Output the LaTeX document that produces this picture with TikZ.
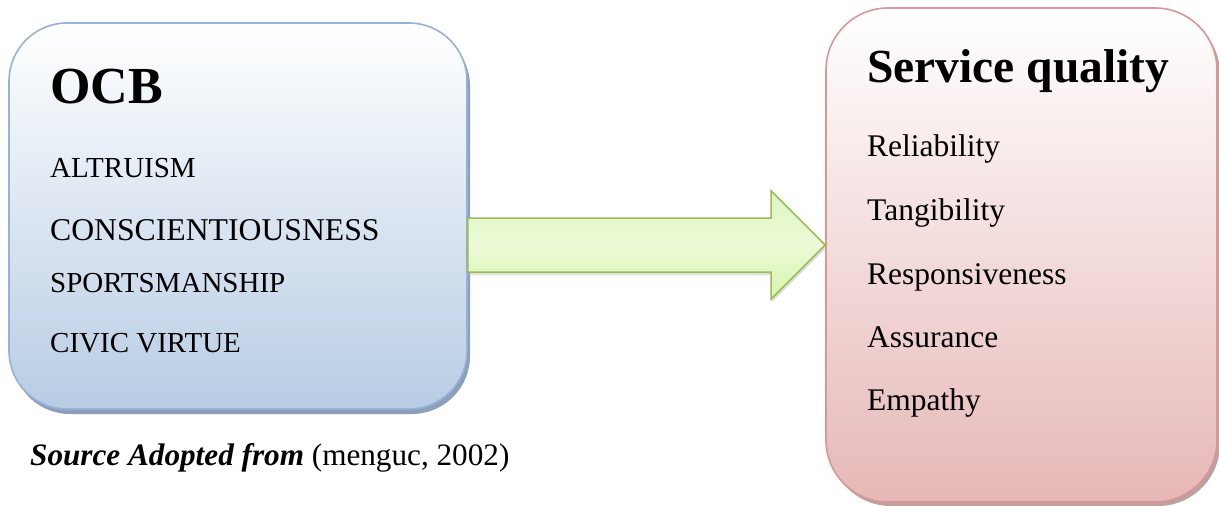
\documentclass[tikz,border=0pt]{standalone}
\usepackage{fontspec}
\setmainfont{Liberation Serif}
\usetikzlibrary{shadows,calc}
\definecolor{bluefill}{RGB}{184,204,228}
\definecolor{blueline}{RGB}{149,179,215}
\definecolor{blueshadow}{RGB}{140,160,186}
\definecolor{redfill}{RGB}{230,184,183}
\definecolor{redline}{RGB}{217,150,148}
\definecolor{redshadow}{RGB}{190,160,160}
\definecolor{greentop}{RGB}{222,246,194}
\definecolor{greenmid}{RGB}{236,250,214}
\definecolor{greenbot}{RGB}{214,244,172}
\definecolor{greenline}{RGB}{155,187,89}
\tikzset{
  bigbox/.style={draw, line width=1.6pt, inner sep=0pt},
  ocbbox/.style={bigbox, rounded corners=58pt, draw=blueline, top color=white, bottom color=bluefill,
    drop shadow={shadow xshift=3pt, shadow yshift=-5pt, fill=blueshadow, opacity=1}},
  sqbox/.style={bigbox, rounded corners=62pt, draw=redline, top color=white, bottom color=redfill,
    drop shadow={shadow xshift=3pt, shadow yshift=-4pt, fill=redshadow, opacity=1}},
  txt/.style={anchor=base west, inner sep=0pt},
  item/.style={txt, font=\fontsize{29}{29}\selectfont},
  sqitem/.style={txt, font=\fontsize{31.5}{31.5}\selectfont},
  bigarrow/.style={draw=greenline, line width=1.5pt, top color=greentop, bottom color=greenbot, middle color=greenmid,
    drop shadow={shadow xshift=1pt, shadow yshift=-3pt, fill=black!25, opacity=0.5}}
}
\begin{document}
\begin{tikzpicture}[x=1pt,y=-1pt]
\useasboundingbox (0,0) rectangle (1219,506);
% boxes
\node[ocbbox, minimum width=458pt, minimum height=386pt] (ocb) at (238,216) {};
\node[sqbox, minimum width=391pt, minimum height=494pt] (sq) at (1021.5,255) {};
% left texts
\node[txt, font=\fontsize{52}{52}\selectfont\bfseries] (ocbt) at (50,103) {OCB};
\node[item] (alt) at (50,177) {ALTRUISM};
\node[txt, font=\fontsize{31.7}{31.7}\selectfont] (con) at (50,240) {CONSCIENTIOUSNESS};
\node[item] (spo) at (50,292) {SPORTSMANSHIP};
\node[item] (civ) at (50,352) {CIVIC VIRTUE};
% right texts
\node[txt, font=\fontsize{47.5}{47.5}\selectfont\bfseries] (sqt) at (867,82) {Service quality};
\node[sqitem] (rel) at (867,156) {Reliability};
\node[sqitem] (tan) at (867,220) {Tangibility};
\node[sqitem] (res) at (867,284) {Responsiveness};
\node[sqitem] (ass) at (867,347) {Assurance};
\node[sqitem] (emp) at (867,410) {Empathy};
% source
\node[txt, font=\fontsize{31.2}{31.2}\selectfont] (src) at (30,465) {\textbf{\textit{Source Adopted from}} (menguc, 2002)};
% arrow
\coordinate (a0) at (ocb.east |- 0,245);
\coordinate (a1) at (sq.west |- 0,245);
\path[bigarrow] ($(a0)+(0,-27)$) -- ($(a1)+(-54,-27)$) -- ($(a1)+(-54,-54)$) -- (a1)
  -- ($(a1)+(-54,54)$) -- ($(a1)+(-54,27)$) -- ($(a0)+(0,27)$) -- cycle;
\end{tikzpicture}
\end{document}
